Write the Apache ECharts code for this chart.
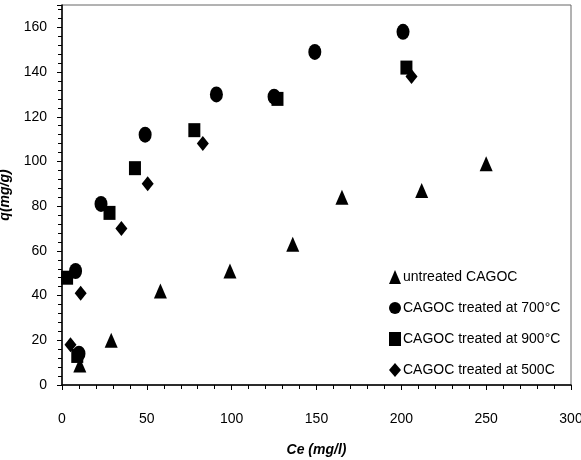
<!DOCTYPE html>
<html>
<head>
<meta charset="utf-8">
<script src="https://cdn.jsdelivr.net/npm/echarts@6/dist/echarts.min.js"></script>
<style>
  html, body { margin: 0; padding: 0; background: #fff; }
  #main { width: 581px; height: 460px; }
</style>
</head>
<body>
<div id="main"></div>
<script>
// 数据 (Ce, q) 读自原图
var seriesNames = ['untreated CAGOC', 'CAGOC treated at 700°C', 'CAGOC treated at 900°C', 'CAGOC treated at 500C'];
var untreated = [[10.5, 9], [29, 20], [58, 42], [99, 51], [136, 63], [165, 84], [212, 87], [250, 99]];
var treated700 = [[8, 51], [10, 14], [23, 81], [49, 112], [91, 130], [125, 129], [149, 149], [201, 158]];
var treated900 = [[3, 48], [9, 13], [28, 77], [43, 97], [78, 114], [127, 128], [203, 142]];
var treated500 = [[5, 18], [11, 41], [35, 70], [50.5, 90], [83, 108], [206, 138]];
var xTicks = [0, 50, 100, 150, 200, 250, 300];
var yTicks = [0, 20, 40, 60, 80, 100, 120, 140, 160];

var font = 'Liberation Sans';
var chart = echarts.init(document.getElementById('main'));

var option = {
    animation: false,
    textStyle: { fontFamily: font, color: '#000' },
    grid: {
        left: 62, right: 10, top: 5, bottom: 75,
        outerBoundsMode: 'none', containLabel: false,
        show: true, borderColor: '#666', borderWidth: 1
    },
    legend: {
        orient: 'vertical',
        left: 384, top: 265,
        itemWidth: 12, itemHeight: 14, itemGap: 17,
        textStyle: { fontFamily: font, fontSize: 14, color: '#000', padding: [0, 0, 0, -3] },
        data: seriesNames
    },
    xAxis: {
        type: 'value', min: 0, max: 300, interval: 50,
        name: 'Ce (mg/l)', nameLocation: 'middle', nameGap: 58,
        nameTextStyle: { fontFamily: font, fontSize: 14, fontWeight: 'bold', fontStyle: 'italic', color: '#000' },
        axisLine: { lineStyle: { color: '#000', width: 1.5 } },
        axisTick: { show: true, length: 5, lineStyle: { color: '#000' } },
        minorTick: { show: true, splitNumber: 5, length: 4, lineStyle: { color: '#000' } },
        axisLabel: {
            margin: 27, fontSize: 14, color: '#000',
            formatter: function (v) { return xTicks.indexOf(v) >= 0 ? String(v) : ''; }
        },
        splitLine: { show: false }
    },
    yAxis: {
        type: 'value', min: 0, max: 170, interval: 20,
        name: 'q(mg/g)', nameLocation: 'middle', nameGap: 50,
        nameTextStyle: { fontFamily: font, fontSize: 14, fontWeight: 'bold', fontStyle: 'italic', color: '#000' },
        axisLine: { lineStyle: { color: '#000', width: 1.5 } },
        axisTick: { show: true, length: 5, lineStyle: { color: '#000' } },
        minorTick: { show: true, splitNumber: 5, length: 4, lineStyle: { color: '#000' } },
        axisLabel: {
            margin: 15, fontSize: 14, color: '#000',
            formatter: function (v) { return yTicks.indexOf(v) >= 0 ? String(v) : ''; }
        },
        splitLine: { show: false }
    },
    series: [
        { name: seriesNames[0], type: 'scatter', symbol: 'triangle', symbolSize: [13, 15], data: untreated },
        { name: seriesNames[1], type: 'scatter', symbol: 'circle', symbolSize: [13, 16], data: treated700 },
        { name: seriesNames[2], type: 'scatter', symbol: 'rect', symbolSize: [12, 14], data: treated900 },
        { name: seriesNames[3], type: 'scatter', symbol: 'diamond', symbolSize: [12, 15], data: treated500 }
    ].map(function (s) {
        s.itemStyle = { color: '#000', opacity: 1 };
        return s;
    })
};

chart.setOption(option);
</script>
</body>
</html>
